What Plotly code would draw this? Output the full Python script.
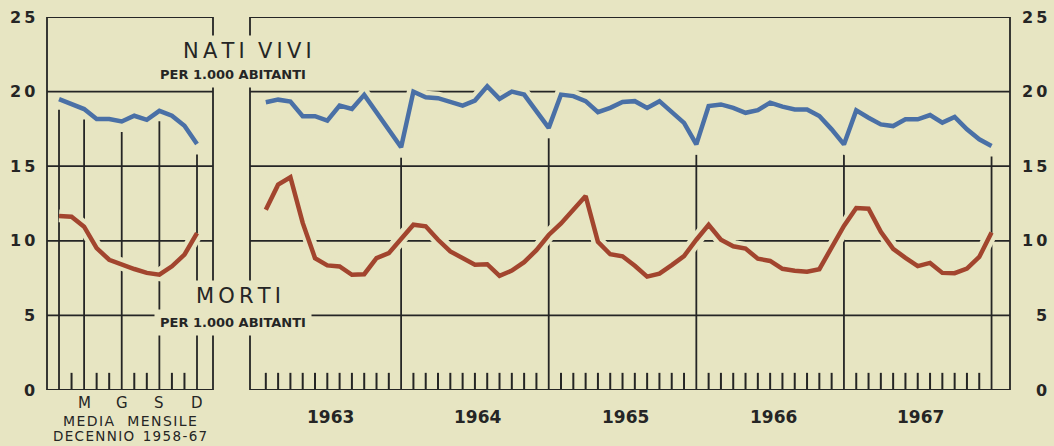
import plotly.graph_objects as go

# ---------------- data ----------------
month_pos = list(range(1, 13))
births_avg = [19.49, 19.16, 18.83, 18.16, 18.16, 18.0, 18.38, 18.11, 18.71, 18.38, 17.71, 16.49]
deaths_avg = [11.67, 11.62, 10.95, 9.51, 8.73, 8.4, 8.11, 7.85, 7.73, 8.29, 9.07, 10.51]

series_pos = list(range(1, 61))
births_monthly = [
    19.29, 19.46, 19.33, 18.35, 18.35, 18.05, 19.06, 18.84, 19.78, 18.6, 17.4, 16.27,
    20.0, 19.62, 19.56, 19.29, 19.06, 19.4, 20.36, 19.51, 20.0, 19.8, 18.7, 17.57,
    19.8, 19.7, 19.36, 18.62, 18.91, 19.3, 19.36, 18.91, 19.36, 18.58, 17.9, 16.46,
    19.03, 19.14, 18.91, 18.58, 18.75, 19.26, 18.99, 18.8, 18.8, 18.36, 17.47, 16.46,
    18.74, 18.25, 17.8, 17.69, 18.14, 18.14, 18.43, 17.92, 18.3, 17.47, 16.8, 16.35,
]
deaths_monthly = [
    12.08, 13.76, 14.26, 11.2, 8.84, 8.35, 8.28, 7.72, 7.76, 8.84, 9.17, 10.18,
    11.08, 10.97, 10.07, 9.29, 8.84, 8.39, 8.43, 7.65, 8.0, 8.57, 9.37, 10.39,
    11.16, 12.04, 13.0, 9.93, 9.1, 8.96, 8.33, 7.6, 7.8, 8.37, 8.98, 10.07,
    11.07, 10.07, 9.63, 9.48, 8.8, 8.65, 8.12, 8.0, 7.93, 8.1, 9.6, 11.0,
    12.2, 12.15, 10.6, 9.46, 8.86, 8.3, 8.52, 7.85, 7.83, 8.14, 8.92, 10.55,
]
years = ["1963", "1964", "1965", "1966", "1967"]
month_label_pos = [3, 6, 9, 12]
month_label_text = ["M", "G", "S", "D"]
y_ticks = [0, 5, 10, 15, 20, 25]

# ---------------- style ----------------
W, H = 1054, 446
PAPER = "#e7e5c2"
INK = "#252525"
BLUE = "#4a70a6"
RED = "#a2452e"
FONT = "DejaVu Sans"
TS = "\u2009"
HS = "\u200a"


def px(x):
    return x / W


def py(y):
    return 1 - y / H


def spaced(s, sep):
    return sep.join(list(s))


fig = go.Figure()

for xs, ys, xa, col in [
    (month_pos, births_avg, "x", BLUE),
    (month_pos, deaths_avg, "x", RED),
    (series_pos, births_monthly, "x2", BLUE),
    (series_pos, deaths_monthly, "x2", RED),
]:
    fig.add_trace(go.Scatter(x=xs, y=ys, xaxis=xa, yaxis="y", mode="lines",
                             line=dict(color=PAPER, width=13), hoverinfo="skip",
                             showlegend=False))
    fig.add_trace(go.Scatter(x=xs, y=ys, xaxis=xa, yaxis="y", mode="lines",
                             line=dict(color=col, width=4.5), showlegend=False))

shapes = []
LW = 1.8
# panel frames
for xr in ["x domain", "x2 domain"]:
    shapes.append(dict(type="rect", xref=xr, yref="y", x0=0, x1=1, y0=0, y1=25,
                       line=dict(color=INK, width=LW), layer="below"))
    for v in y_ticks[1:-1]:
        shapes.append(dict(type="line", xref=xr, yref="y", x0=0, x1=1, y0=v, y1=v,
                           line=dict(color=INK, width=LW), layer="below"))

# left panel month lines and ticks
for m in month_pos:
    if m in (1, 3, 6, 9, 12):
        top = births_avg[m - 1] - 0.7
        w = LW
    else:
        top = 1.15
        w = 2
    shapes.append(dict(type="line", xref="x", yref="y", x0=m, x1=m, y0=0, y1=top,
                       line=dict(color=INK, width=w), layer="below"))

# right panel year lines and month ticks
for k in series_pos:
    if k % 12 == 0:
        top = births_monthly[k - 1] - 0.7
        w = LW
    else:
        top = 1.15
        w = 2
    shapes.append(dict(type="line", xref="x2", yref="y", x0=k, x1=k, y0=0, y1=top,
                       line=dict(color=INK, width=w), layer="below"))

ann = []
for v in y_ticks:
    t = spaced(str(v), TS)
    ann.append(dict(x=px(37), y=v, xref="paper", yref="y", text=t, showarrow=False,
                    xanchor="right", yanchor="middle",
                    font=dict(family=FONT, size=16, color=INK, weight="bold")))
    ann.append(dict(x=px(1049), y=v, xref="paper", yref="y", text=t, showarrow=False,
                    xanchor="right", yanchor="middle",
                    font=dict(family=FONT, size=16, color=INK, weight="bold")))

for i, yr in enumerate(years):
    ann.append(dict(x=12 * i + 6.25, y=py(417), xref="x2", yref="paper", text=yr,
                    showarrow=False, xanchor="center", yanchor="middle",
                    font=dict(family=FONT, size=17, color=INK, weight="bold")))

for m, t in zip(month_label_pos, month_label_text):
    ann.append(dict(x=m, y=py(403), xref="x", yref="paper", text=t, showarrow=False,
                    xanchor="center", yanchor="middle",
                    font=dict(family=FONT, size=15, color=INK)))

ann.append(dict(x=px(130), y=py(421), xref="paper", yref="paper",
                text=spaced("MEDIA", HS) + "   " + spaced("MENSILE", HS),
                showarrow=False, xanchor="center", yanchor="middle",
                font=dict(family=FONT, size=14, color=INK)))
ann.append(dict(x=px(130), y=py(436), xref="paper", yref="paper",
                text=spaced("DECENNIO", HS) + "  " + spaced("1958-67", HS),
                showarrow=False, xanchor="center", yanchor="middle",
                font=dict(family=FONT, size=13.5, color=INK)))

# series labels (with paper background to interrupt grid lines)
ann.append(dict(x=px(247), y=py(51), xref="paper", yref="paper",
                text=spaced("NATI", TS) + "  " + spaced("VIVI", TS),
                showarrow=False, xanchor="center", yanchor="middle", bgcolor=PAPER,
                borderpad=3, font=dict(family=FONT, size=21, color=INK)))
ann.append(dict(x=px(233), y=py(74), xref="paper", yref="paper",
                text="PER 1.000 ABITANTI", showarrow=False, xanchor="center",
                yanchor="middle", bgcolor=PAPER, borderpad=5,
                font=dict(family=FONT, size=13, color=INK, weight="bold")))
ann.append(dict(x=px(238), y=py(296), xref="paper", yref="paper",
                text=spaced("MORTI", TS),
                showarrow=False, xanchor="center", yanchor="middle", bgcolor=PAPER,
                borderpad=3, font=dict(family=FONT, size=21, color=INK)))
ann.append(dict(x=px(233), y=py(322), xref="paper", yref="paper",
                text="PER 1.000 ABITANTI", showarrow=False, xanchor="center",
                yanchor="middle", bgcolor=PAPER, borderpad=5,
                font=dict(family=FONT, size=13, color=INK, weight="bold")))

fig.update_layout(
    width=W, height=H,
    margin=dict(l=0, r=0, t=0, b=0),
    paper_bgcolor=PAPER, plot_bgcolor=PAPER,
    showlegend=False,
    xaxis=dict(domain=[px(47), px(213)], range=[0.043, 13.275], visible=False,
               anchor="y", fixedrange=True),
    xaxis2=dict(domain=[px(250), px(1010)], range=[-0.285, 61.5], visible=False,
                anchor="y", fixedrange=True),
    yaxis=dict(domain=[py(390), py(17)], range=[0, 25], visible=False,
               anchor="x", fixedrange=True),
    shapes=shapes,
    annotations=ann,
)

fig.write_html(
    "out.html",
    config={"displayModeBar": False},
    post_script="document.body.style.margin='0';document.body.style.overflow='hidden';",
)
